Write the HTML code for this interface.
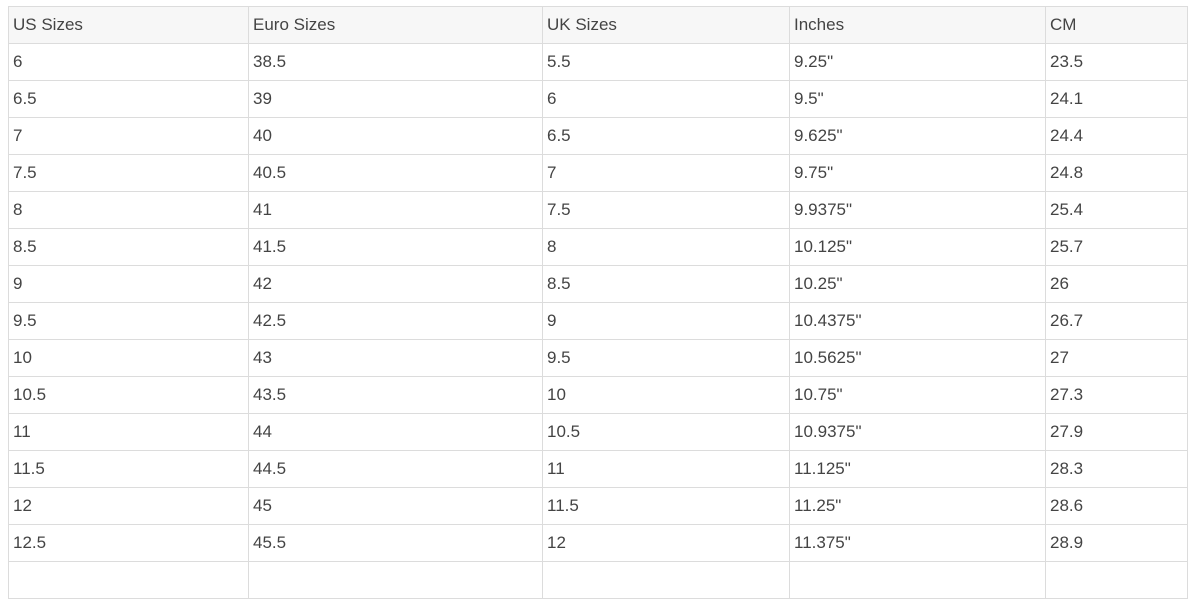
<!DOCTYPE html>
<html><head><meta charset="utf-8"><style>
body{margin:0;width:1195px;height:571px;overflow:hidden;background:#fff;font-family:"Liberation Sans",sans-serif;}
table{position:absolute;left:8px;top:6px;border-collapse:collapse;table-layout:fixed;width:1179px;}
td,th{border:1px solid #dcdcdc;height:36px;padding:0 0 0 4px;font-size:17px;color:#444;text-align:left;font-weight:normal;vertical-align:middle;white-space:nowrap;}
th{background:#f7f7f7;}
</style></head><body>
<table>
<colgroup><col style="width:240px"><col style="width:294px"><col style="width:247px"><col style="width:256px"><col style="width:142px"></colgroup>
<thead><tr><th>US Sizes</th><th>Euro Sizes</th><th>UK Sizes</th><th>Inches</th><th>CM</th></tr></thead>
<tbody id="tb"></tbody></table>
<script>
const us=["6","6.5","7","7.5","8","8.5","9","9.5","10","10.5","11","11.5","12","12.5",""];
const euro=["38.5","39","40","40.5","41","41.5","42","42.5","43","43.5","44","44.5","45","45.5",""];
const uk=["5.5","6","6.5","7","7.5","8","8.5","9","9.5","10","10.5","11","11.5","12",""];
const inches=["9.25\"","9.5\"","9.625\"","9.75\"","9.9375\"","10.125\"","10.25\"","10.4375\"","10.5625\"","10.75\"","10.9375\"","11.125\"","11.25\"","11.375\"",""];
const cm=["23.5","24.1","24.4","24.8","25.4","25.7","26","26.7","27","27.3","27.9","28.3","28.6","28.9",""];
const tb=document.getElementById('tb');
const cols=[us,euro,uk,inches,cm];
const names=['us-size','euro-size','uk-size','inches','cm'];
for(let i=0;i<us.length;i++){
  const tr=document.createElement('tr');
  
  
  cols.forEach((c,j)=>{
    const td=document.createElement('td');
    td.textContent=c[i];
    
    
    tr.appendChild(td);
  });
  tb.appendChild(tr);
}
</script>
</body></html>
